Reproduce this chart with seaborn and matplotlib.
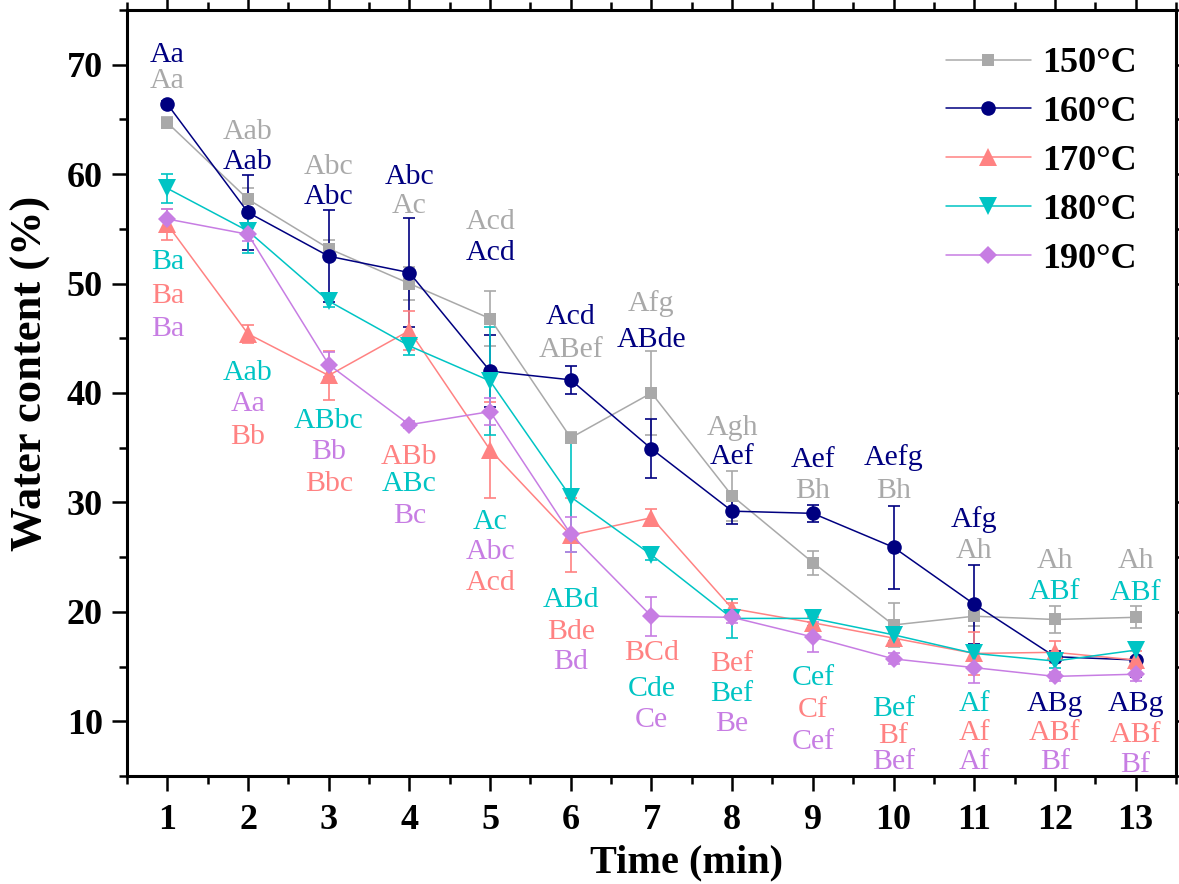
import numpy as np
import pandas as pd
import matplotlib
matplotlib.use("Agg")
import matplotlib.pyplot as plt
import seaborn as sns
from matplotlib.ticker import MultipleLocator

# ---------------- data ----------------
time_min = [1, 2, 3, 4, 5, 6, 7, 8, 9, 10, 11, 12, 13]
series_names = ["150°C", "160°C", "170°C", "180°C", "190°C"]

water_150 = [64.7, 57.7, 53.2, 50.0, 46.8, 35.9, 40.0, 30.6, 24.5, 18.8, 19.6, 19.3, 19.5]
err_150 = [0.5, 1.0, 0.8, 1.5, 2.5, 0.5, 3.8, 2.3, 1.1, 2.0, 0.9, 1.2, 1.0]
water_160 = [66.4, 56.5, 52.5, 51.0, 42.0, 41.2, 34.9, 29.2, 29.0, 25.9, 20.7, 15.9, 15.6]
err_160 = [0.3, 3.4, 4.2, 5.0, 3.3, 1.3, 2.7, 1.2, 0.8, 3.8, 3.6, 0.5, 1.6]
water_170 = [55.4, 45.4, 41.6, 45.7, 34.8, 27.0, 28.6, 20.3, 19.0, 17.6, 16.2, 16.3, 15.6]
err_170 = [1.4, 0.8, 2.2, 1.8, 4.4, 3.4, 0.8, 0.5, 0.5, 0.5, 2.0, 1.0, 0.8]
water_180 = [58.7, 54.8, 48.4, 44.3, 41.1, 30.5, 25.2, 19.4, 19.4, 17.9, 16.2, 15.5, 16.5]
err_180 = [1.3, 2.0, 0.5, 0.8, 4.9, 5.0, 0.5, 1.8, 0.7, 0.6, 0.7, 0.6, 0.6]
water_190 = [55.9, 54.5, 42.6, 37.1, 38.3, 27.1, 19.6, 19.5, 17.7, 15.7, 14.9, 14.1, 14.3]
err_190 = [0.9, 0.6, 1.1, 0.3, 1.2, 1.6, 1.8, 0.5, 1.4, 0.5, 1.4, 0.4, 0.6]

letters_150 = ["Aa", "Aab", "Abc", "Ac", "Acd", "ABef", "Afg", "Agh", "Bh", "Bh", "Ah", "Ah", "Ah"]
letters_160 = ["Aa", "Aab", "Abc", "Abc", "Acd", "Acd", "ABde", "Aef", "Aef", "Aefg", "Afg", "ABg", "ABg"]
letters_170 = ["Ba", "Bb", "Bbc", "ABb", "Acd", "Bde", "BCd", "Bef", "Cf", "Bf", "Af", "ABf", "ABf"]
letters_180 = ["Ba", "Aab", "ABbc", "ABc", "Ac", "ABd", "Cde", "Bef", "Cef", "Bef", "Af", "ABf", "ABf"]
letters_190 = ["Ba", "Aa", "Bb", "Bc", "Abc", "Bd", "Ce", "Be", "Cef", "Bef", "Af", "Bf", "Bf"]

# ---------------- layout (label heights, in axis units) ----------------
label_y_150 = [68.73, 64.08, 60.9, 57.34, 55.89, 44.15, 48.42, 37.04, 31.31, 31.31, 25.84, 24.93, 24.93]
label_y_160 = [71.18, 61.35, 58.16, 59.98, 53.06, 47.24, 45.13, 34.4, 34.13, 34.31, 28.66, 11.82, 11.82]
label_y_170 = [49.15, 36.22, 31.94, 34.4, 22.93, 18.38, 16.46, 15.46, 11.27, 8.9, 9.18, 9.18, 9.0]
label_y_180 = [52.25, 42.05, 37.68, 31.94, 28.48, 21.38, 13.19, 12.73, 14.19, 11.36, 11.82, 22.11, 22.02]
label_y_190 = [46.15, 39.23, 34.85, 29.03, 25.75, 15.64, 10.37, 10.0, 8.36, 6.54, 6.54, 6.54, 6.27]

colors = ["#A9A9A9", "#000080", "#FF8282", "#00C4C4", "#C77DE3"]
marker_shapes = ["s", "o", "^", "v", "D"]
marker_sizes = [9, 10.5, 12.5, 12.5, 9]

values = [water_150, water_160, water_170, water_180, water_190]
errors = [err_150, err_160, err_170, err_180, err_190]
letters = [letters_150, letters_160, letters_170, letters_180, letters_190]
label_ys = [label_y_150, label_y_160, label_y_170, label_y_180, label_y_190]

df = pd.DataFrame({
    "Time": np.tile(time_min, len(series_names)),
    "Water": np.concatenate(values),
    "Temp": np.repeat(series_names, len(time_min)),
})

# ---------------- style ----------------
sns.set_style("ticks")
plt.rcParams["font.family"] = ["Liberation Serif", "DejaVu Serif"]
plt.rcParams["font.weight"] = "bold"
plt.rcParams["text.color"] = "black"
plt.rcParams["axes.labelcolor"] = "black"
plt.rcParams["xtick.color"] = "black"
plt.rcParams["ytick.color"] = "black"
plt.rcParams["axes.linewidth"] = 2.2

fig = plt.figure(figsize=(11.79, 8.84), dpi=100)
ax = fig.add_axes([0.1077, 0.1222, 0.8897, 0.8665])

palette = dict(zip(series_names, colors))
markers = dict(zip(series_names, marker_shapes))

sns.lineplot(data=df, x="Time", y="Water", hue="Temp", style="Temp",
             hue_order=series_names, style_order=series_names,
             palette=palette, markers=markers, dashes=False, errorbar=None,
             linewidth=1.1, markeredgewidth=0, legend=False, ax=ax, zorder=3)

series_lines = list(ax.lines[:len(series_names)])
for ln, ms in zip(series_lines, marker_sizes):
    ln.set_markersize(ms)

for vals, errs, col in zip(values, errors, colors):
    ax.errorbar(time_min, vals, yerr=errs, fmt="none", ecolor=col,
                elinewidth=1.2, capsize=4.5, capthick=1.2, zorder=2)

# significance letters
fs_letters = 21.5
for labs, lys, col in zip(letters, label_ys, colors):
    for t, lab, ly in zip(time_min, labs, lys):
        ax.annotate(lab, xy=(t, ly), xytext=(0, -0.33 * fs_letters),
                    textcoords="offset points", ha="center", va="baseline",
                    fontsize=fs_letters, fontweight="normal", color=col,
                    zorder=4)

ax.set_xlim(0.5, 13.5)
ax.set_ylim(5, 75)
ax.xaxis.set_major_locator(MultipleLocator(1))
ax.xaxis.set_minor_locator(MultipleLocator(0.5))
ax.yaxis.set_major_locator(MultipleLocator(10))
ax.yaxis.set_minor_locator(MultipleLocator(5))
ax.tick_params(which="both", direction="out", top=True, right=True,
               width=1.8, color="black", labelsize=26, labelcolor="black")
ax.tick_params(which="major", length=11)
ax.tick_params(axis="x", which="major", pad=9.5)
ax.tick_params(axis="y", which="major", pad=6.5)
ax.tick_params(which="minor", length=5.5)
for sp in ax.spines.values():
    sp.set_color("black")
    sp.set_linewidth(2.2)

ax.set_xlabel("Time (min)", fontsize=29, fontweight="bold", labelpad=5, x=0.533)
ax.set_ylabel("Water content (%)", fontsize=32, fontweight="bold", labelpad=11, y=0.525)

ax.legend(series_lines, series_names, loc="upper left",
          bbox_to_anchor=(946 / 1179, 1 - 47 / 884), bbox_transform=fig.transFigure,
          frameon=False, prop={"size": 26, "weight": "bold"},
          handlelength=2.35, handletextpad=0.3, labelspacing=0.43,
          borderpad=0, borderaxespad=0)

fig.savefig("out.png", dpi=100)
